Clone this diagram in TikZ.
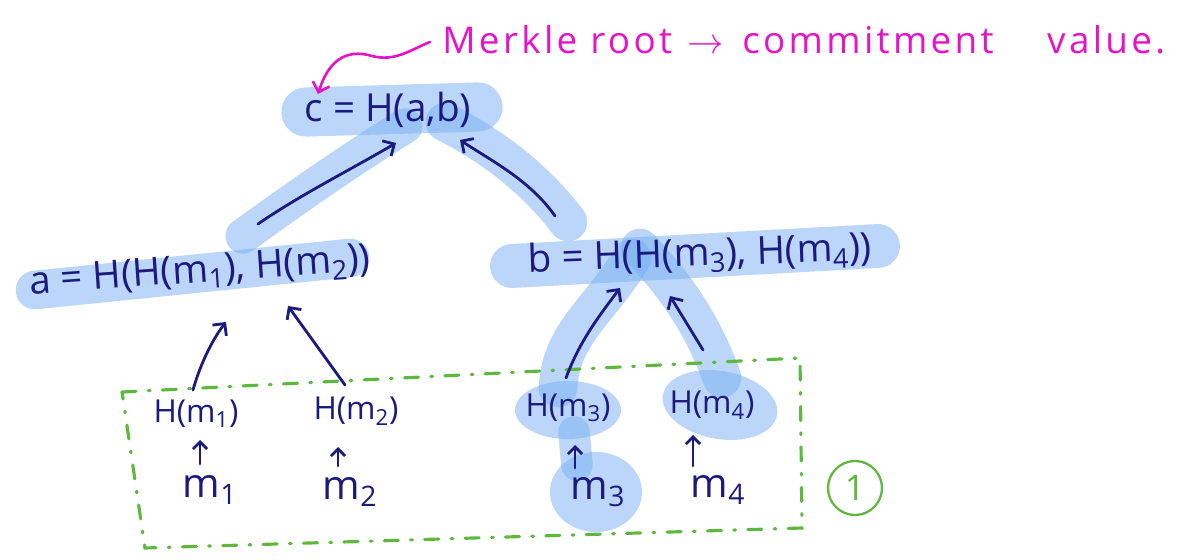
\documentclass[tikz,border=0pt]{standalone}
\usepackage{fontspec}
\setmainfont{Open Sans}
\usetikzlibrary{arrows.meta}
\definecolor{ink}{HTML}{1B1A7E}
\definecolor{pen}{HTML}{E614C8}
\definecolor{grn}{HTML}{5DB83E}
\definecolor{hl}{HTML}{78AEF2}
\newcommand{\idx}[1]{\textsubscript{#1}}
\begin{document}
\begin{tikzpicture}[x=0.02cm,y=-0.02cm,
  band/.style={draw=hl, draw opacity=0.5, line cap=round, line join=round, line width=22pt},
  blob/.style={fill=hl, fill opacity=0.5},
  inktxt/.style={text=ink, inner sep=0pt},
  big/.style={inktxt, font=\fontsize{22}{22}\selectfont},
  leaf/.style={inktxt, font=\fontsize{18}{18}\selectfont},
  msg/.style={inktxt, font=\fontsize{23}{23}\selectfont},
  link/.style={draw=ink, line width=1.6pt, line cap=round, line join=round, -{Straight Barb[length=5pt,width=10pt]}},
  tick/.style={draw=ink, line width=1.6pt, line cap=round, line join=round, -{Straight Barb[length=4pt,width=8pt]}},
]
\useasboundingbox (0,0) rectangle (1177,560);

% highlighter strokes
\draw[band, line width=28pt] (306,112) -- (478,107);
\draw[band, line width=20pt] (243,236) .. controls (300,195) and (350,160) .. (405,126);
\draw[band, line width=22pt] (568,222) .. controls (540,185) and (500,150) .. (445,122);
\draw[band] (35,290) -- (350,258);
\draw[band, line width=25pt] (512,266) -- (878,246);
\draw[band] (558,388) .. controls (560,335) and (600,310) .. (632,258);
\draw[band] (722,378) .. controls (705,330) and (680,290) .. (640,248);
\fill[blob] (568,410) ellipse [x radius=53, y radius=29];
\fill[blob, rotate around={-10:(720,405)}] (720,405) ellipse [x radius=58, y radius=34];
\fill[blob] (596,492) ellipse [x radius=46, y radius=40];
\draw[band, line width=18pt] (574,432) -- (577,465);

% grouping of the leaves
\draw[grn, line width=1.8pt, line cap=round, dash pattern=on 8pt off 7pt on 1pt off 7pt]
  (122,392) -- (800,358) -- (802,528) -- (145,548) -- cycle;
\node[draw=grn, line width=1.3pt, circle, minimum size=54*0.02cm, inner sep=0pt,
      text=grn, font=\fontsize{20}{20}\selectfont] (one) at (855,488) {1};

% tree nodes
\node[big] (c) at (388,110) {c = H(a,b)};
\node[big, rotate=4] (a) at (200,272) {a = H(H(m\idx{1}), H(m\idx{2}))};
\node[big, rotate=2] (b) at (700,255) {b = H(H(m\idx{3}), H(m\idx{4}))};
\node[leaf] (hm1) at (196,414) {H(m\idx{1})};
\node[leaf] (hm2) at (356,411) {H(m\idx{2})};
\node[leaf] (hm3) at (568,408) {H(m\idx{3})};
\node[leaf] (hm4) at (712,405) {H(m\idx{4})};
\node[msg] (m1) at (210,490) {m\idx{1}};
\node[msg] (m2) at (350,492) {m\idx{2}};
\node[msg] (m3) at (598,492) {m\idx{3}};
\node[msg] (m4) at (718,490) {m\idx{4}};

% annotation
\node[anchor=west, text=pen, inner sep=0pt, font=\fontsize{21}{21}\selectfont\addfontfeatures{LetterSpace=9}]
  (note) at (442,40) {\makebox[4.9cm][l]{Merkle root}\makebox[1.1cm][l]{$\rightarrow$}\makebox[6.1cm][l]{commitment}value.};
\coordinate (tail) at (430,42);
\coordinate (rootmark) at (318,94);
\draw[pen, line width=1.5pt, line cap=round, -{Straight Barb[length=5pt,width=10pt]}]
  (tail) .. controls (410,50) and (395,62) .. (372,56)
         .. controls (345,48) and (328,62) .. (rootmark);

% connector end points
\coordinate (a-top) at (258,224);
\coordinate (c-left) at (396,143);
\coordinate (b-top) at (555,216);
\coordinate (c-right) at (460,140);
\coordinate (a-in1) at (226,322);
\coordinate (a-in2) at (288,306);
\coordinate (b-in3) at (620,288);
\coordinate (b-in4) at (670,296);
\coordinate (h1-out) at (193,390);
\coordinate (h2-out) at (345,385);
\coordinate (h3-out) at (566,378);
\coordinate (h4-out) at (703,350);
\coordinate (m1-out) at (200,464);
\coordinate (h1-in) at (200,440);
\coordinate (m2-out) at (338,466);
\coordinate (h2-in) at (338,447);
\coordinate (m3-out) at (575,468);
\coordinate (h3-in) at (575,445);
\coordinate (m4-out) at (693,466);
\coordinate (h4-in) at (693,435);

% hashing arrows
\draw[link] (a-top) .. controls (300,195) and (350,170) .. (c-left);
\draw[link] (b-top) .. controls (530,180) and (490,160) .. (c-right);
\draw[link] (h1-out) .. controls (200,365) and (212,340) .. (a-in1);
\draw[link] (h2-out) -- (a-in2);
\draw[link] (h3-out) .. controls (580,340) and (600,315) .. (b-in3);
\draw[link] (h4-out) -- (b-in4);
\draw[tick] (m1-out) -- (h1-in);
\draw[tick] (m2-out) -- (h2-in);
\draw[tick] (m3-out) -- (h3-in);
\draw[tick] (m4-out) -- (h4-in);
\end{tikzpicture}
\end{document}
